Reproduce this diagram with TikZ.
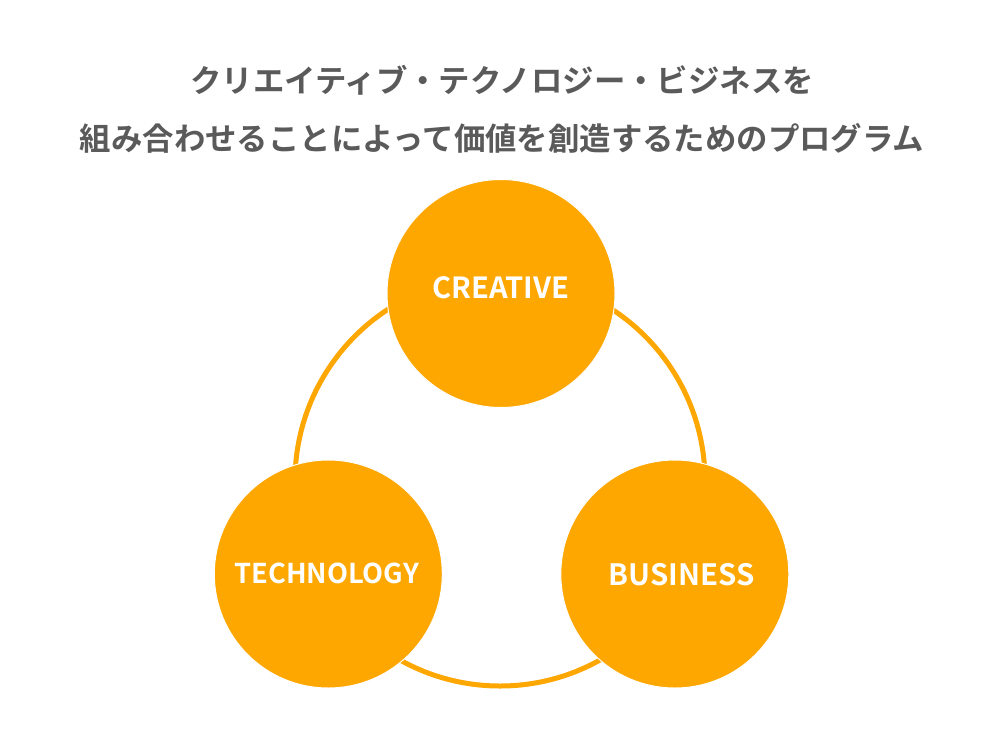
\documentclass[tikz,border=0pt]{standalone}
\usepackage{fontspec}
\newfontfamily\jp{Noto Sans CJK JP}[BoldFont={Noto Sans CJK JP Bold}]
\definecolor{orng}{HTML}{FDA700}
\definecolor{titlegray}{HTML}{5A5A5A}
\begin{document}
\begin{tikzpicture}[x=1pt,y=-1pt,
  ball/.style={circle, fill=orng, draw=white, line width=1pt, minimum size=228pt, inner sep=0pt},
  lbl/.style={text=white, font=\jp\bfseries\fontsize{#1}{#1}\selectfont},
  ttl/.style={text=titlegray, font=\jp\bfseries\fontsize{31.4}{31.4}\selectfont, inner sep=0pt}]
\useasboundingbox (0,0) rectangle (1000,750);
\fill[white] (0,0) rectangle (1000,750);
\node[ttl] (t1) at (502,80) {クリエイティブ・テクノロジー・ビジネスを};
\node[ttl] (t2) at (502,138) {組み合わせることによって価値を創造するためのプログラム};
\draw[orng, line width=5pt] (500,481) circle[radius=205];
\node[ball] (cre) at (501,293.5) {};
\node[ball] (tec) at (328.3,574) {};
\node[ball] (bus) at (674.8,574) {};
\node[lbl=29.1] (crel) at (501,288) {CREATIVE};
\node[lbl=27.3] (tecl) at (326.8,573) {TECHNOLOGY};
\node[lbl=29.4] (busl) at (681.7,575) {BUSINESS};
\end{tikzpicture}
\end{document}
